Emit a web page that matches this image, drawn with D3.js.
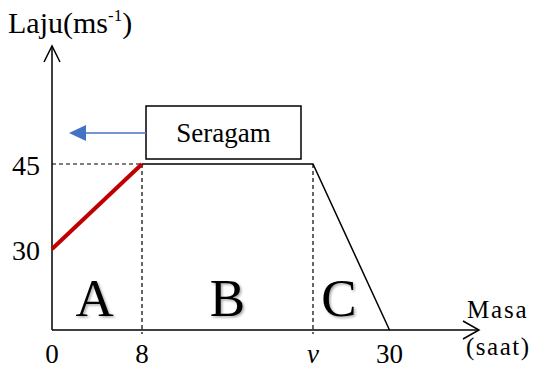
<!DOCTYPE html>
<html>
<head>
<meta charset="utf-8">
<script src="https://cdn.jsdelivr.net/npm/d3@7"></script>
<style>
  body { margin: 0; background: #fff; }
  svg { display: block; font-family: "Liberation Serif", "Times New Roman", serif; }
</style>
</head>
<body>
<div id="chart"></div>
<script>
// chart values
const timeTicks = [0, 8, 23.2, 30];
const timeLabels = ["0", "8", "v", "30"];
const speedTicks = [30, 45];
const speedLabels = ["30", "45"];
const phaseA = [[0, 30], [8, 45]];
const phaseBC = [[8, 45], [23.2, 45], [30, 0]];
const regionNames = ["A", "B", "C"];
const regionTimes = [3.8, 15.6, 25.5];

const width = 537, height = 370;

const svg = d3.select("#chart").append("svg")
    .attr("width", width)
    .attr("height", height);

// shadow for the big letters
const defs = svg.append("defs");
defs.append("filter").attr("id", "shadow")
    .append("feDropShadow")
    .attr("dx", 1.5).attr("dy", 1.5)
    .attr("stdDeviation", 1)
    .attr("flood-color", "#000")
    .attr("flood-opacity", 0.35);

// axis is broken between 0 and 30, so use a piecewise scale
const x = d3.scaleLinear().domain([0, 30]).range([52, 389.5]);
const y = d3.scaleLinear().domain([0, 30, 45]).range([330, 249, 164]);

const x0 = x(0), y0 = y(0);

// dashed guides
svg.append("line")
    .attr("x1", x0).attr("x2", x(8))
    .attr("y1", y(45)).attr("y2", y(45))
    .attr("stroke", "#000").attr("stroke-width", 1.2)
    .attr("stroke-dasharray", "4,3");

svg.selectAll(".vguide")
    .data([8, 23.2])
    .join("line")
    .attr("x1", d => x(d)).attr("x2", d => x(d))
    .attr("y1", y(45)).attr("y2", y0 + 4)
    .attr("stroke", "#000").attr("stroke-width", 1.2)
    .attr("stroke-dasharray", "4,3");

// axes
svg.append("line")
    .attr("x1", x0).attr("x2", x0)
    .attr("y1", y0).attr("y2", 46)
    .attr("stroke", "#000").attr("stroke-width", 1.5);
svg.append("path")
    .attr("d", `M${x0 - 8},62 L${x0},46 L${x0 + 8},62`)
    .attr("fill", "none").attr("stroke", "#000").attr("stroke-width", 1.5);

svg.append("line")
    .attr("x1", x0).attr("x2", 479)
    .attr("y1", y0).attr("y2", y0)
    .attr("stroke", "#000").attr("stroke-width", 1.5);
svg.append("path")
    .attr("d", `M463,${y0 - 9} L479,${y0} L463,${y0 + 9}`)
    .attr("fill", "none").attr("stroke", "#000").attr("stroke-width", 1.5);

const line = d3.line().x(d => x(d[0])).y(d => y(d[1]));

// speed profile
svg.append("path")
    .attr("d", line(phaseBC))
    .attr("fill", "none").attr("stroke", "#000").attr("stroke-width", 1.5);

svg.append("path")
    .attr("d", line(phaseA))
    .attr("fill", "none").attr("stroke", "#C00000").attr("stroke-width", 4);

// tick labels
svg.selectAll(".xlab")
    .data(timeTicks)
    .join("text")
    .attr("x", d => x(d))
    .attr("y", 363)
    .attr("text-anchor", "middle")
    .style("font-size", "27px")
    .style("font-style", (d, i) => timeLabels[i] === "v" ? "italic" : "normal")
    .text((d, i) => timeLabels[i]);

svg.selectAll(".ylab")
    .data(speedTicks)
    .join("text")
    .attr("x", 40)
    .attr("y", d => y(d) + 11)
    .attr("text-anchor", "end")
    .style("font-size", "28px")
    .text((d, i) => speedLabels[i]);

// region letters
svg.selectAll(".region")
    .data(regionTimes)
    .join("text")
    .attr("x", d => x(d))
    .attr("y", 316)
    .attr("text-anchor", "middle")
    .attr("filter", "url(#shadow)")
    .style("font-size", "53px")
    .text((d, i) => regionNames[i]);

// axis titles
const yTitle = svg.append("text")
    .attr("x", 8).attr("y", 33)
    .style("font-size", "30px");
yTitle.append("tspan").text("Laju(ms");
yTitle.append("tspan").attr("dy", -12).style("font-size", "17px").text("-1");
yTitle.append("tspan").attr("dy", 12).text(")");

svg.append("text")
    .attr("x", 467).attr("y", 318)
    .style("font-size", "25px")
    .style("letter-spacing", "1.8px")
    .text("Masa");
svg.append("text")
    .attr("x", 466).attr("y", 355)
    .style("font-size", "25px")
    .style("letter-spacing", "1.5px")
    .text("(saat)");

// "Seragam" callout with arrow
svg.append("rect")
    .attr("x", 146).attr("y", 106)
    .attr("width", 155).attr("height", 53)
    .attr("fill", "#fff").attr("stroke", "#000").attr("stroke-width", 1.5);
svg.append("text")
    .attr("x", 223.5).attr("y", 142)
    .attr("text-anchor", "middle")
    .style("font-size", "27px")
    .text("Seragam");

svg.append("line")
    .attr("x1", 146).attr("x2", 84)
    .attr("y1", 133).attr("y2", 133)
    .attr("stroke", "#4472C4").attr("stroke-width", 1.5);
svg.append("path")
    .attr("d", "M69,133 L86,125 L86,141 Z")
    .attr("fill", "#4472C4");
</script>
</body>
</html>
